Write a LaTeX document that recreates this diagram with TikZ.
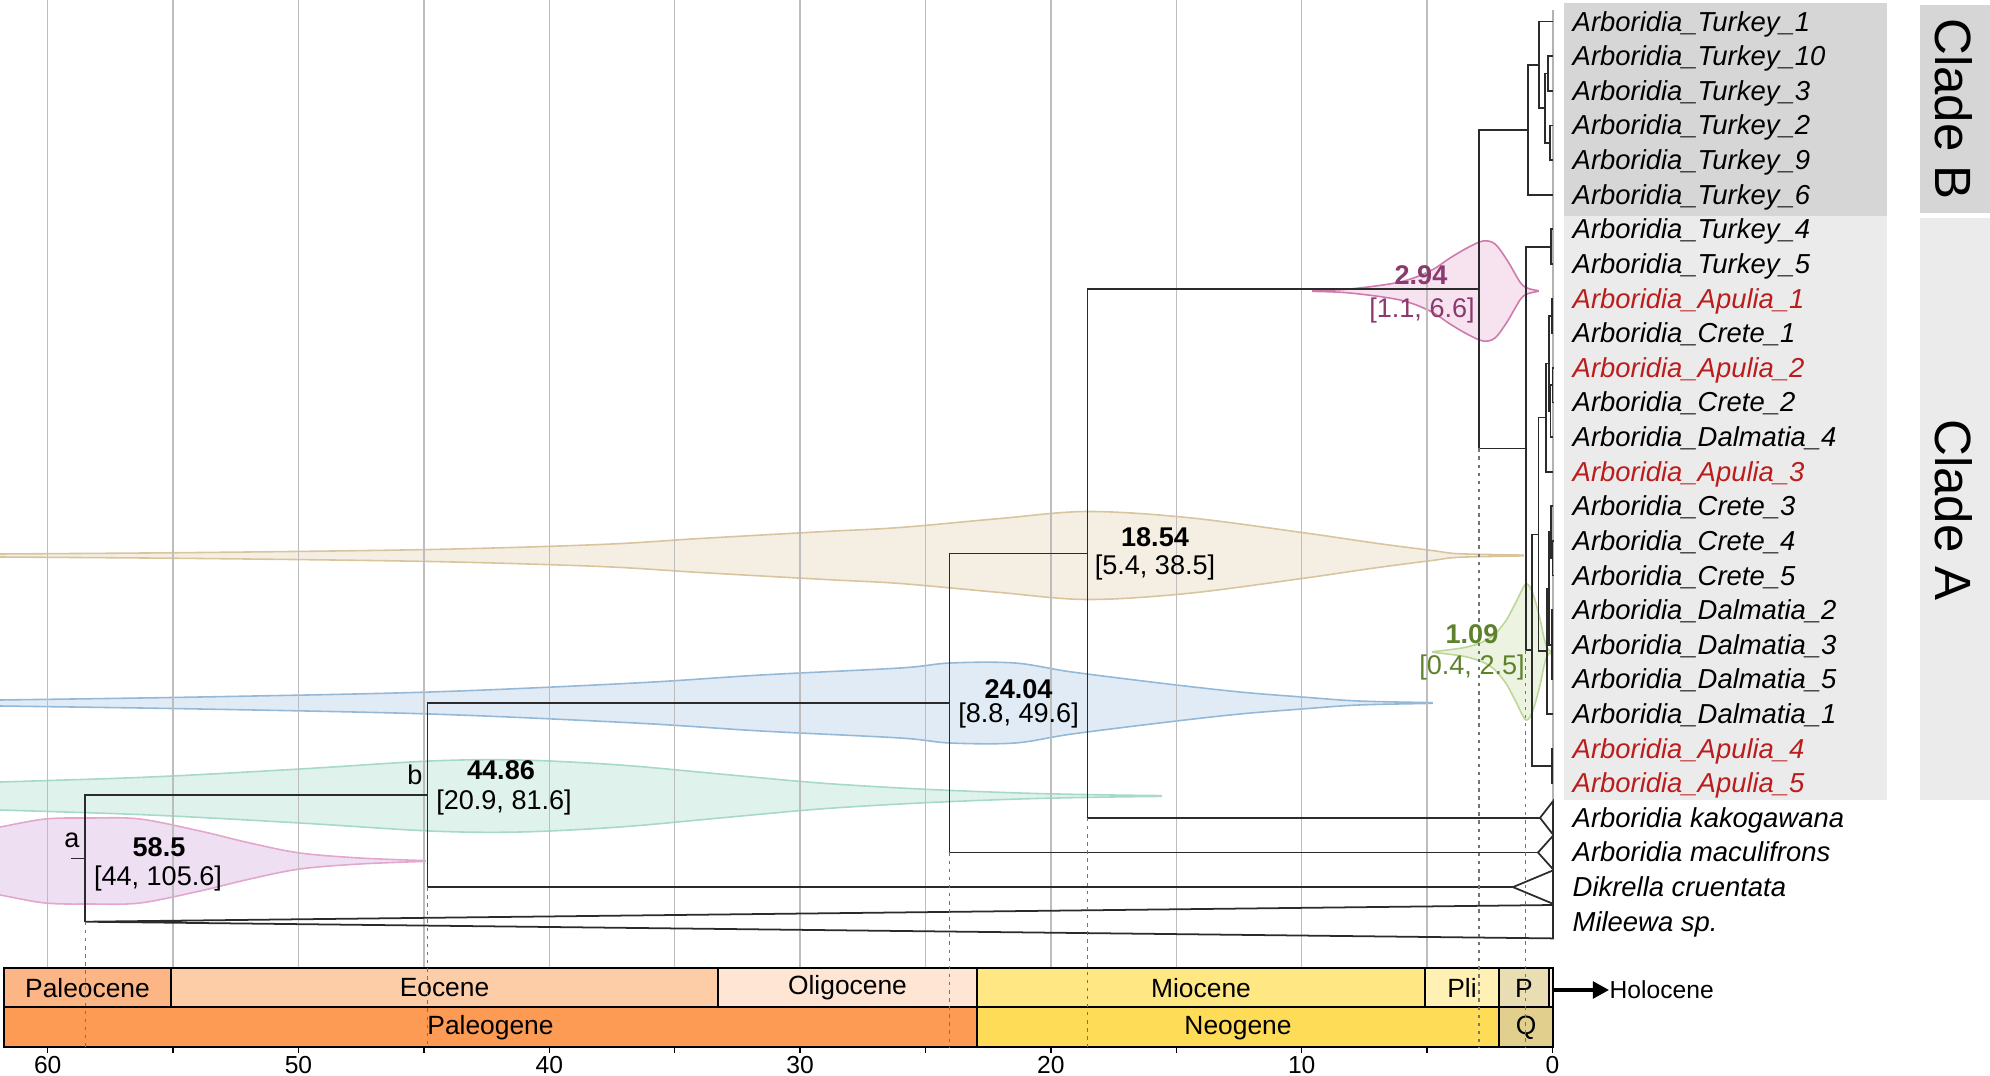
\documentclass[tikz,border=0pt]{standalone}
\usepackage{fontspec}
\setmainfont{Liberation Sans}
\usetikzlibrary{arrows.meta,calc}
\definecolor{treec}{HTML}{2B2B2B}
\definecolor{gridc}{HTML}{BDBDBD}
\definecolor{apul}{HTML}{BB1D1D}
\definecolor{cladeBc}{HTML}{D6D6D6}
\definecolor{cladeAc}{HTML}{EBEBEB}
\definecolor{vpurF}{HTML}{EEDFF2}
\definecolor{vpurD}{HTML}{E3A6CD}
\definecolor{vgrnF}{HTML}{DFF2EC}
\definecolor{vgrnD}{HTML}{A6DAC7}
\definecolor{vbluF}{HTML}{E1EBF5}
\definecolor{vbluD}{HTML}{93B8D8}
\definecolor{vtanF}{HTML}{F4EFE2}
\definecolor{vtanD}{HTML}{D8C59E}
\definecolor{vpnkF}{HTML}{F7E3EF}
\definecolor{vpnkD}{HTML}{CF7AAC}
\definecolor{vlimF}{HTML}{ECF3E0}
\definecolor{vlimD}{HTML}{BCD897}
\definecolor{plum}{HTML}{8A3A6E}
\definecolor{olivetxt}{HTML}{5E812C}
\definecolor{paleoc}{HTML}{FCB685}
\definecolor{eoc}{HTML}{FDCDA8}
\definecolor{oligoc}{HTML}{FEE5D4}
\definecolor{paleog}{HTML}{FD9A53}
\definecolor{mioc}{HTML}{FFE784}
\definecolor{plioc}{HTML}{FFF1B3}
\definecolor{pleis}{HTML}{E9DDB3}
\definecolor{holoc}{HTML}{FBEFE4}
\definecolor{neog}{HTML}{FFDC57}
\definecolor{quat}{HTML}{E0CF8D}
\newcommand\vlnshape[4]{%
  \gdef\vlup{}\gdef\vldn{}%
  \foreach \vlx/\vlh in {#4}{%
    \xdef\vlup{\vlup(\vlx,#3-\vlh)}%
    \xdef\vldn{(\vlx,#3+\vlh)\vldn}%
  }%
  \edef\vlcmd{\noexpand\path[fill=#1,draw=#2,line width=0.45pt] plot[smooth,tension=0.55] coordinates {\vlup} -- plot[smooth,tension=0.55] coordinates {\vldn} -- cycle;}%
  \vlcmd
}
\newcommand\kids[2]{\foreach \kk in {#2}{\draw[tree] (#1) |- (\kk);}}
\begin{document}
\begin{tikzpicture}[x=0.01cm,y=-0.01cm,
  tree/.style={draw=treec,line width=0.5pt},
  gridl/.style={draw=gridc,line width=0.4pt},
  dotl/.style={draw=gray!90!black,line width=0.4pt,dash pattern=on 1pt off 1.3pt},
  tiplab/.style={anchor=base west,inner sep=0pt,font=\fontsize{7.8}{9}\selectfont\itshape},
  numb/.style={inner sep=0pt,font=\fontsize{7.7}{9}\selectfont\bfseries},
  rng/.style={inner sep=0pt,font=\fontsize{7.7}{9}\selectfont},
  eplab/.style={inner sep=0pt,font=\fontsize{7.5}{9}\selectfont},
  axlab/.style={inner sep=0pt,font=\fontsize{7}{8}\selectfont},
  epbox/.style={draw=black,line width=0.6pt},
  cladelab/.style={rotate=-90,inner sep=0pt,font=\fontsize{14.5}{16}\selectfont}]
\useasboundingbox (0,0) rectangle (1990,1076);
% clade backgrounds
\fill[cladeBc] (1564,3) rectangle (1887,216);
\fill[cladeAc] (1564,216) rectangle (1887,799.5);
\fill[cladeBc] (1920,5) rectangle (1990,213);
\fill[cladeAc] (1920,218) rectangle (1990,799.5);
\node[cladelab] (cB) at (1954,109) {Clade B};
\node[cladelab] (cA) at (1954,510) {Clade A};
% violins
\vlnshape{vpurF}{vpurD}{861}{-5/34,0/34,45/42,90/43,140/42,200/30,250/18,300/8,360/3,425/0.4}
\vlnshape{vgrnF}{vgrnD}{796}{-5/14,0/14,150/19,300/27,430/35,520/36,620/31,720/22,820/13,920/7,1020/3,1100/1.2,1161/0.4}
\vlnshape{vbluF}{vbluD}{703}{-5/3,0/3,200/6,430/11,635/20,761/28,900/35,950/40,1015/40,1072/31,1168/19,1240/11,1302/6,1359/2,1432/0.4}
\vlnshape{vtanF}{vtanD}{555.5}{-5/1.5,0/1.5,200/3,430/6,600/11,700/17,825/24,900/28,1000/37,1087/44,1187/38,1302/23,1378/12,1432/5,1455/2,1490/1,1523/0.4}
\vlnshape{vpnkF}{vpnkD}{291}{1313/0.4,1350/2,1400/9,1430/20,1450/33,1467/43,1483/50,1495/47,1507/31,1520/9,1527/3,1538/0.4}
\vlnshape{vlimF}{vlimD}{652}{1433/0.4,1467/5,1490/14,1505/30,1516/50,1526/68,1533/58,1540/33,1544/14,1547/4,1551/0.4}
% grid
\foreach \t in {5,10,...,60}{\draw[gridl] ({1552.5-25.08*\t},0) -- ({1552.5-25.08*\t},968);}
\draw[draw=gray!60,line width=0.6pt] (1553,10) -- (1553,800);
% tips
\foreach \i/\lab/\col in {0/Arboridia\_Turkey\_1/black,1/Arboridia\_Turkey\_10/black,2/Arboridia\_Turkey\_3/black,3/Arboridia\_Turkey\_2/black,4/Arboridia\_Turkey\_9/black,5/Arboridia\_Turkey\_6/black,6/Arboridia\_Turkey\_4/black,7/Arboridia\_Turkey\_5/black,8/Arboridia\_Apulia\_1/apul,9/Arboridia\_Crete\_1/black,10/Arboridia\_Apulia\_2/apul,11/Arboridia\_Crete\_2/black,12/Arboridia\_Dalmatia\_4/black,13/Arboridia\_Apulia\_3/apul,14/Arboridia\_Crete\_3/black,15/Arboridia\_Crete\_4/black,16/Arboridia\_Crete\_5/black,17/Arboridia\_Dalmatia\_2/black,18/Arboridia\_Dalmatia\_3/black,19/Arboridia\_Dalmatia\_5/black,20/Arboridia\_Dalmatia\_1/black,21/Arboridia\_Apulia\_4/apul,22/Arboridia\_Apulia\_5/apul,23/Arboridia kakogawana/black,24/Arboridia maculifrons/black,25/Dikrella cruentata/black,26/Mileewa sp./black}{%
  \coordinate (t\i) at (1553,{21.6+34.62*\i});
  \node[tiplab,text=\col] (L\i) at (1572,{31.1+34.62*\i}) {\lab};
}
% internal nodes
\coordinate (B3) at (1548,73.53);
\coordinate (B4) at (1550,142.77);
\coordinate (B2) at (1545,108.15);
\coordinate (B1) at (1539,64.88);
\coordinate (B0) at (1528,129.79);
\coordinate (TT) at (1551,246.63);
\coordinate (AC1) at (1552,315.87);
\coordinate (AC2a) at (1552.5,385.11);
\coordinate (AC2) at (1550.5,411.08);
\coordinate (A5) at (1549,363.48);
\coordinate (A3) at (1545.7,417.57);
\coordinate (C3c) at (1552.5,558.21);
\coordinate (C3) at (1551,532.25);
\coordinate (D3) at (1552,644.76);
\coordinate (C6) at (1549,588.51);
\coordinate (A4) at (1547,651.26);
\coordinate (A2) at (1538.5,534.42);
\coordinate (AP) at (1552,765.93);
\coordinate (A1) at (1532,650.18);
\coordinate (A0) at (1525.7,448.41);
\coordinate (E) at (1478.8,289.1);
\coordinate (D) at (1087.5,553.48);
\coordinate (C) at (949.6,702.98);
\coordinate (Bn) at (427.4,795.04);
\coordinate (R) at (85.3,858.38);
\coordinate (astub) at (71,858.38);
\coordinate (K) at (1540,817.86);
\coordinate (Ku) at (1553,801.2);
\coordinate (Kd) at (1553,834.5);
\coordinate (M) at (1538,852.48);
\coordinate (Mu) at (1553,835.8);
\coordinate (Md) at (1553,869.2);
\coordinate (Dk) at (1513,887.1);
\coordinate (Du) at (1553,870.4);
\coordinate (Dd) at (1553,903.8);
\coordinate (Mi) at (85.3,921.72);
\coordinate (Miu) at (1553,905.0);
\coordinate (Mid) at (1553,938.4);
\coordinate (axb) at (0,1047);
% tree
\kids{B3}{t1,t2}
\kids{B4}{t3,t4}
\kids{B2}{B3,B4}
\kids{B1}{t0,B2}
\kids{B0}{B1,t5}
\kids{TT}{t6,t7}
\kids{AC1}{t8,t9}
\kids{AC2a}{t10,t11}
\kids{AC2}{AC2a,t12}
\kids{A5}{AC1,AC2}
\kids{A3}{A5,t13}
\kids{C3c}{t15,t16}
\kids{C3}{t14,C3c}
\kids{D3}{t17,t18,t19}
\kids{C6}{C3,D3}
\kids{A4}{C6,t20}
\kids{A2}{A3,A4}
\kids{AP}{t21,t22}
\kids{A1}{A2,AP}
\kids{A0}{TT,A1}
\kids{E}{B0,A0}
\kids{D}{E,K}
\kids{C}{D,M}
\kids{Bn}{C,Dk}
\kids{R}{Bn,Mi}
\draw[tree] (R) -- (astub);
\draw[tree] (K) -- (Ku) -- (Kd) -- cycle;
\draw[tree] (M) -- (Mu) -- (Md) -- cycle;
\draw[tree] (Dk) -- (Du) -- (Dd) -- cycle;
\draw[tree] (Mi) -- (Miu) -- (Mid) -- cycle;
% epoch bars
\draw[epbox,fill=paleoc] (4,968) rectangle (171,1007);
\draw[epbox,fill=eoc] (171,968) rectangle (718,1007);
\draw[epbox,fill=oligoc] (718,968) rectangle (977,1007);
\draw[epbox,fill=mioc] (977,968) rectangle (1425,1007);
\draw[epbox,fill=plioc] (1425,968) rectangle (1499,1007);
\draw[epbox,fill=pleis] (1499,968) rectangle (1549,1007);
\draw[epbox,fill=holoc] (1549,968) rectangle (1553,1007);
\draw[epbox,fill=paleog] (4,1007) rectangle (977,1047);
\draw[epbox,fill=neog] (977,1007) rectangle (1499,1047);
\draw[epbox,fill=quat] (1499,1007) rectangle (1553,1047);
\node[eplab] (ep1) at (87.5,988) {Paleocene};
\node[eplab] (ep2) at (444.5,988) {Eocene};
\node[eplab] (ep3) at (847.5,988) {Oligocene};
\node[eplab] (ep4) at (1201,988) {Miocene};
\node[eplab] (ep5) at (1462,988) {Pli};
\node[eplab] (ep6) at (1524,988) {P};
\node[eplab] (pe1) at (490.5,1028) {Paleogene};
\node[eplab] (pe2) at (1238,1028) {Neogene};
\node[eplab] (pe3) at (1526,1028) {Q};
\coordinate (holostart) at (1553,990);
\node[eplab,anchor=west,font=\fontsize{7}{8}\selectfont] (holo) at (1609,990) {Holocene};
\draw[line width=0.9pt,-{Triangle[length=4.6pt,width=4.8pt]}] (holostart) -- (holo.west);
% axis
\foreach \t in {0,5,...,60}{\draw[line width=0.4pt] ({1552.5-25.08*\t},1047) -- ({1552.5-25.08*\t},1053);}
\foreach \t in {0,10,...,60}{\node[axlab] (ax\t) at ({1552.5-25.08*\t},1065) {\t};}
% dotted lines
\draw[dotl] (Mi) -- (Mi |- axb);
\draw[dotl] (Bn |- Dk) -- (Bn |- axb);
\draw[dotl] (C |- M) -- (C |- axb);
\draw[dotl] (D |- K) -- (D |- axb);
\draw[dotl] (E |- A0) -- (E |- axb);
\draw[dotl] (A0 |- A1) -- (A0 |- axb);
% node labels
\node[rng] (la) at (72,840) {a};
\node[rng] (lb) at (415,775) {b};
\node[numb] (n1) at (159,847) {58.5};
\node[rng] (r1) at (158,878) {[44, 105.6]};
\node[numb] (n2) at (501,770) {44.86};
\node[rng] (r2) at (504,802) {[20.9, 81.6]};
\node[numb] (n3) at (1018.6,689) {24.04};
\node[rng] (r3) at (1018.6,715) {[8.8, 49.6]};
\node[numb] (n4) at (1155,537) {18.54};
\node[rng] (r4) at (1155,567) {[5.4, 38.5]};
\node[numb,text=plum] (n5) at (1421,275) {2.94};
\node[rng,text=plum] (r5) at (1422,310) {[1.1, 6.6]};
\node[numb,text=olivetxt] (n6) at (1472,634) {1.09};
\node[rng,text=olivetxt] (r6) at (1472,667) {[0.4, 2.5]};
\end{tikzpicture}
\end{document}
